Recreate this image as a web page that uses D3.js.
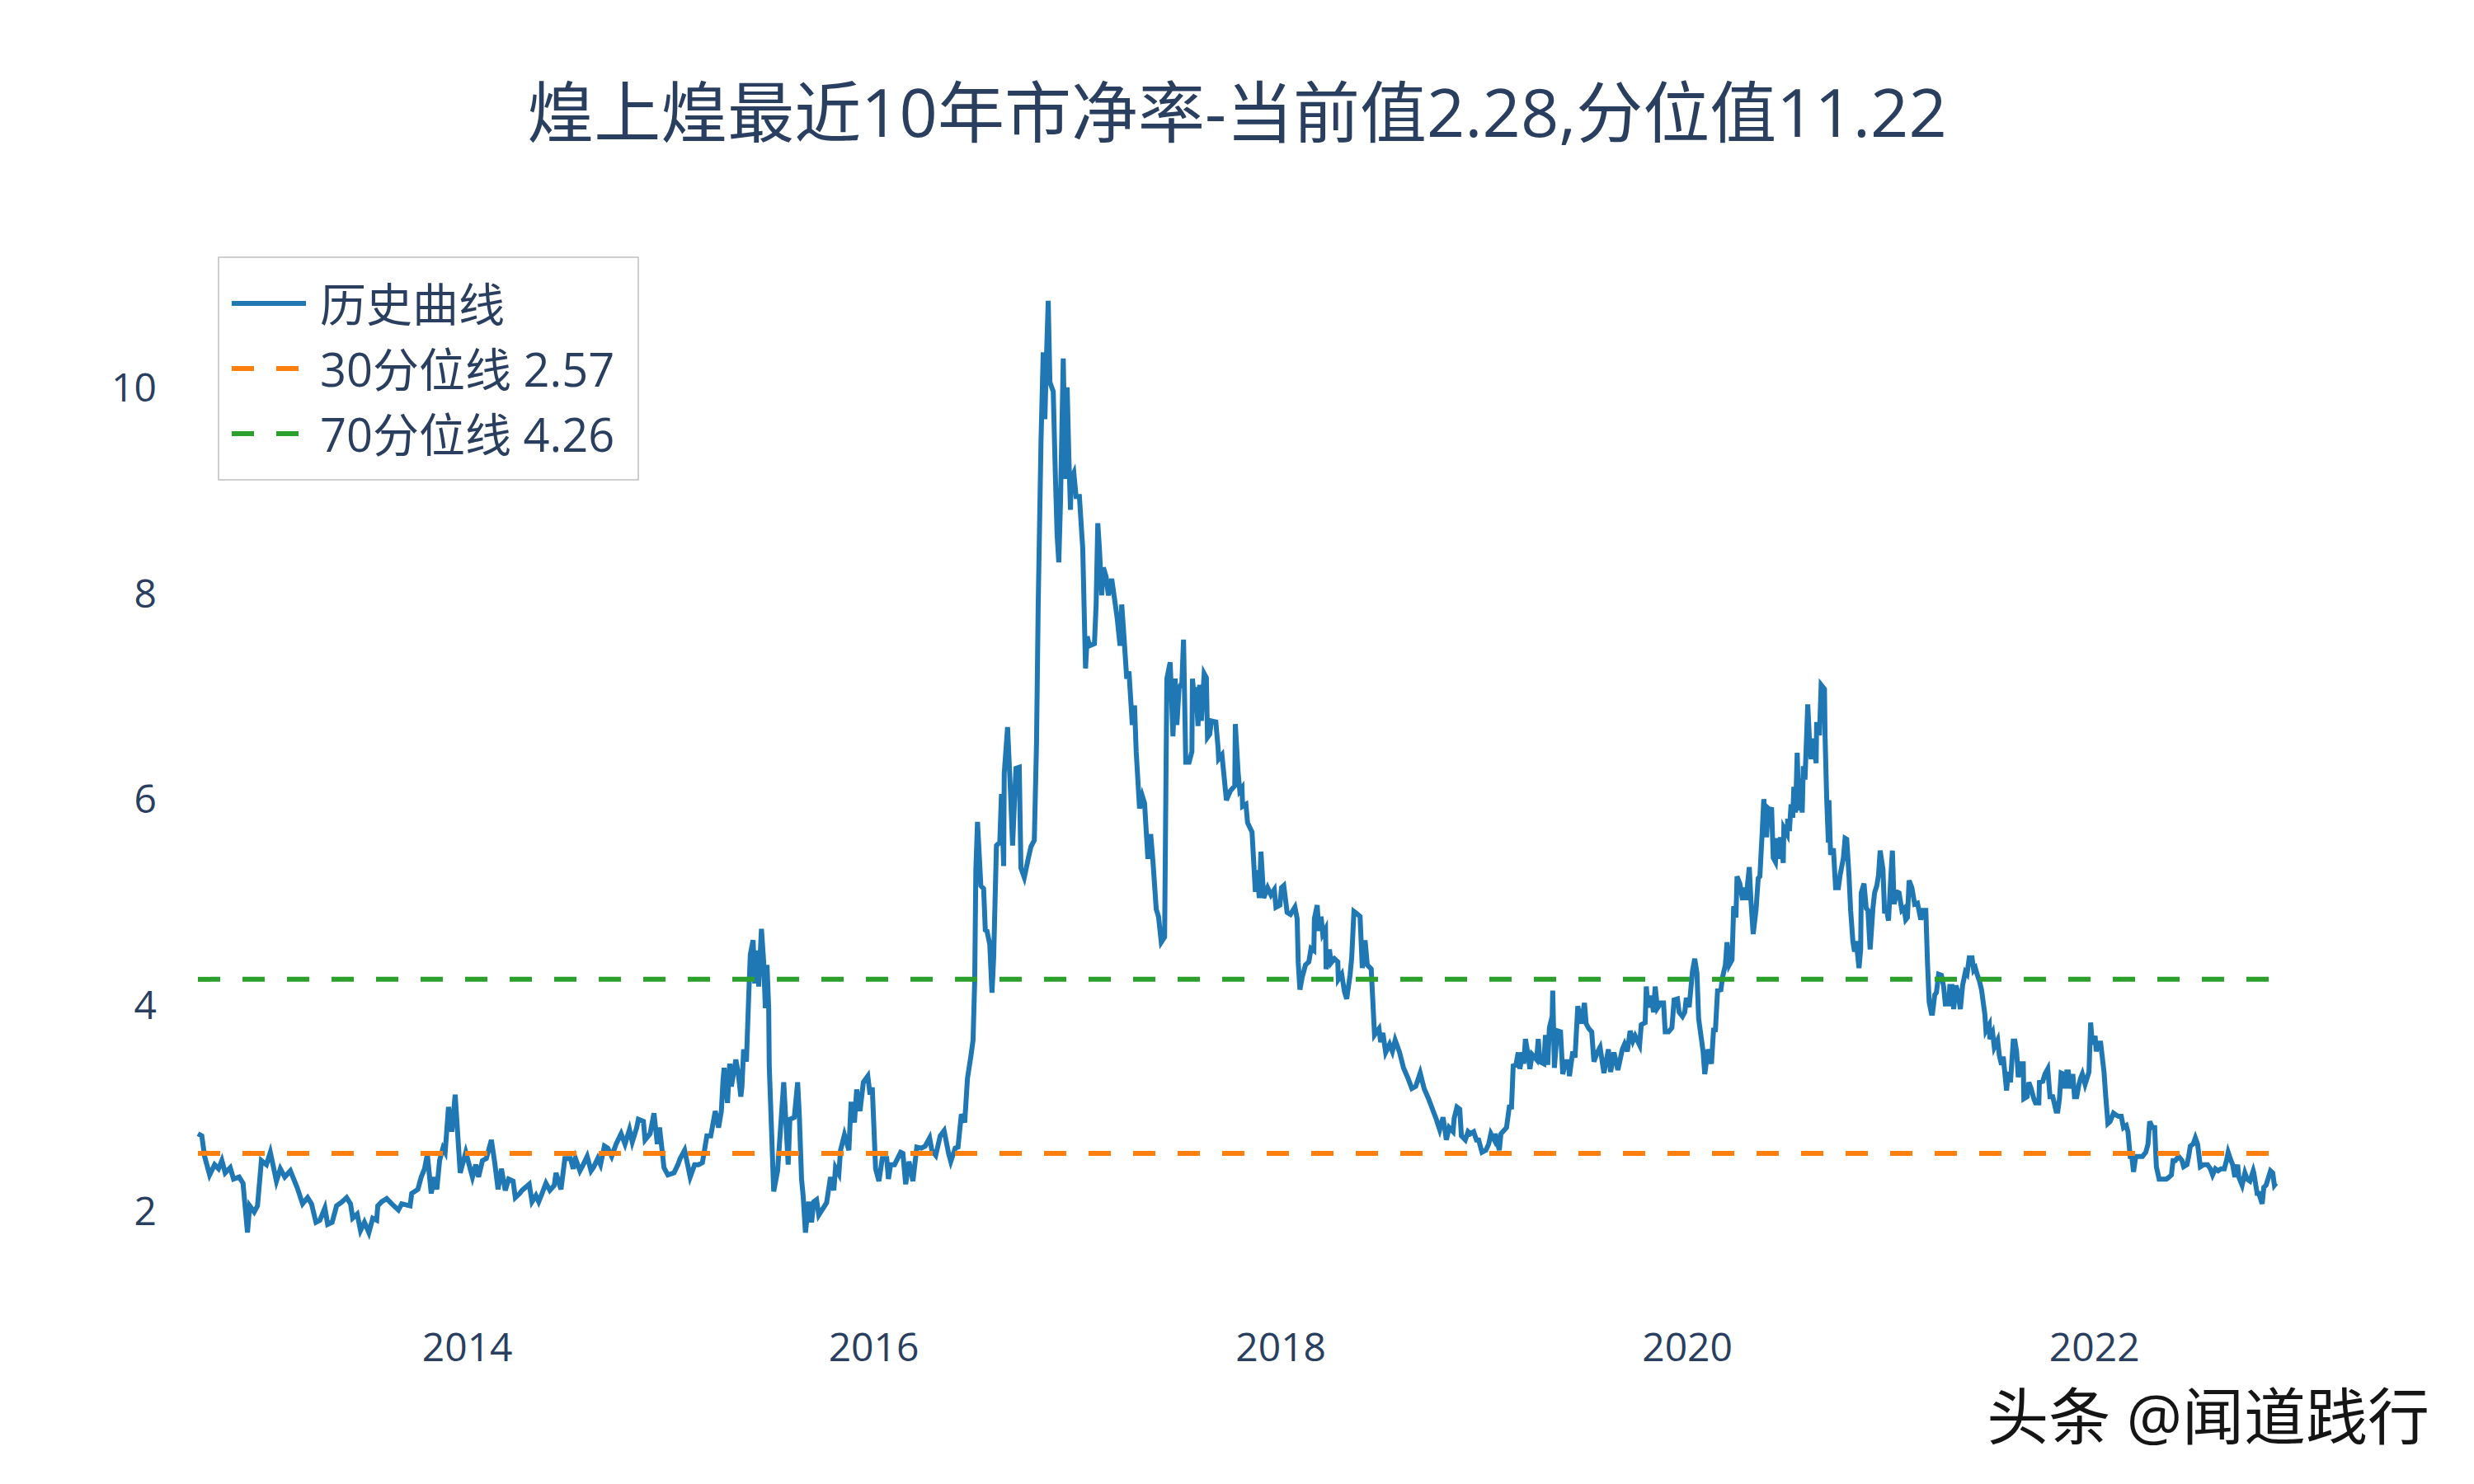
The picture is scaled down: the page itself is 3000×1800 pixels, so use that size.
<!DOCTYPE html>
<html><head><meta charset="utf-8">
<script src="https://cdn.jsdelivr.net/npm/d3@7"></script>
<style>
body{margin:0;background:#fff}
svg{display:block}
text{font-family:"Open Sans","Noto Sans CJK SC",sans-serif}
</style>
</head><body>
<svg id="c" width="3000" height="1800"></svg>
<script>
// ---------------- data ----------------
const titleText = "煌上煌最近10年市净率-当前值2.28,分位值11.22";
const watermarkText = "头条 @闻道践行";
const seriesName = "历史曲线";
const startDate = "2012-09-05";           // first trading day shown
// days after startDate for each reading
const dayOffsets = [
0,7,12,21,30,37,43,49,58,64,74,81,89,93,101,107,114,123,130,141,148,156,166,178,188,197,204,212,219,228,233,241,249,259,267,274,278,286,292,299,307,314,321,323,330,339,348,360,366,381,384,395,401,407,412,419,424,429,434,440,444,450,456,462,471,481,486,493,499,504,511,518,527,
533,539,545,552,558,566,570,578,582,595,600,607,612,618,625,632,640,643,652,659,669,674,678,686,692,699,706,711,718,723,730,736,743,751,760,767,775,780,788,791,800,803,812,819,825,829,837,844,855,862,866,874,884,892,899,906,914,921,929,935,940,943,945,951,955,958,966,970,975,977,980,985,989,992,997,1000,1004,1007,1012,1016,1019,1022,1025,1026,1034,1041,1052,1060,1063,
1071,1077,1080,1084,1087,1091,1097,1102,1106,1111,1115,1129,1136,1142,1145,1151,1154,1161,1169,1173,1179,1183,1189,1195,1203,1207,1211,1217,1223,1229,1237,1240,1244,1251,1262,1266,1271,1277,1284,1291,1299,1306,1314,1318,1325,1333,1340,1348,1352,1360,1365,1371,1377,1382,1388,1392,1395,1397,1400,1406,1411,1414,1417,1422,
1426,1429,1434,1440,1443,1447,1448,1454,1459,1463,1469,1475,1478,1484,1491,1496,1502,1506,1509,1514,1518,1521,1524,1527,1530,1536,1540,1543,1546,1549,1554,1558,1561,1564,1567,1568,1573,1577,1583,1589,1594,1597,1601,1610,1613,1616,1619,1623,1626,1631,1635,1641,1647,1651,1656,1659,1663,1668,1672,1678,1682,1685,1691,1696,1700,1706,1711,1715,1721,1725,1730,1736,1740,1746,1751,1755,1758,1762,1767,1770,1774,1780,1785,1786,1791,
1792,1796,1799,1802,1807,1811,1813,1817,1820,1828,1832,1833,1839,1847,1854,1862,1863,1868,1871,1875,1876,1882,1885,1893,1899,1902,1906,1909,1914,1921,1927,1933,1936,1943,1946,1950,1956,1962,1970,1974,1976,1979,1983,1989,1995,1999,2004,2005,2010,2013,2017,2020,2025,2026,2032,2035,2041,2047,2048,2054,2059,2063,2069,2072,2076,2081,2087,2091,2096,2100,2107,2113,2121,2124,2128,2133,2140,2145,2150,2158,
2165,2173,2180,2187,2195,2202,2210,2217,2224,2230,
2236,2242,2247,2254,2256,2261,2266,2269,2276,2281,2285,2291,2296,2300,2306,2313,2318,2322,2328,2330,2337,2340,2350,2355,2359,2362,2367,2371,2374,2379,2381,2384,2389,2392,2396,2404,2407,2410,2417,2420,2424,2427,2432,2433,2436,2441,2447,2451,2456,2461,2463,2469,2473,2478,2484,2490,2493,2498,2503,2507,2513,2518,2525,2533,2537,2543,2550,2558,2562,2567,2572,2577,2581,2589,2592,2599,2601,2604,2610,2614,2617,2621,2627,2632,2635,2641,2647,2651,2657,2660,2666,2670,2673,2678,2684,2688,2692,2695,2703,2706,2712,2718,2722,2725,2729,2735,2738,2743,2746,2750,2755,
2758,2762,2764,2769,2774,2777,2780,2786,2789,2793,2798,2802,2805,2809,2812,2817,2820,2824,2826,2829,2833,2836,2839,2842,2847,2848,2854,2855,2858,2861,2864,2866,2869,2872,2875,2878,2881,2883,2886,2891,2894,2897,2900,2906,2907,2912,2915,2921,2922,2925,2928,2929,2932,2937,2941,2946,2949,2955,2958,2961,2965,2968,2972,2975,2978,2983,2986,2987,2992,2996,2999,3003,3008,3011,3015,3018,3021,3026,3029,3032,3036,3040,3043,3046,3051,3055,3060,3064,3067,3070,3073,3078,3083,3088,3094,3098,3103,3106,3109,3113,3115,3119,3122,3126,3131,3135,3138,3144,3146,3150,3153,3157,3160,3165,3169,3174,3177,3181,3186,3189,3192,3195,3199,
3203,3209,3211,3217,3218,3223,3226,3232,3235,3239,3242,3248,3251,3255,3260,3263,3266,3269,3273,3278,3279,3285,3288,3292,3297,3300,3306,3307,3313,3317,3322,3326,3331,3337,3340,3343,3346,3350,3353,3356,3359,3362,3367,3370,3374,3378,3381,3384,3389,3396,3399,3402,3407,3409,3412,3417,3423,3426,3430,3434,3440,3445,3449,3454,3458,3463,3466,3470,3473,3476,3480,3488,3492,3498,3502,3505,3510,3514,3517,3522,3528,3535,3540,3544,3547,3551,3557,3563,3566,3572,3575,3578,3583,3587,3591,3596,3602,3609,3614,3618,3623,3628,3633,3639,3643,3646,3651,3654,3658,3663,3665,3671,3676,3680,3685,3691,3692,3698,3701,3707,3710,3714,3722,3726,3729,3732
];
// price-to-book ratio readings
const pbValues = [
2.76,2.74,2.54,2.36,2.46,2.42,2.50,2.38,2.43,2.32,2.34,2.28,1.80,2.06,2.00,2.06,2.50,2.46,2.58,2.30,2.42,2.34,2.40,2.24,2.08,2.14,2.08,1.90,1.92,2.04,1.88,1.90,2.06,2.10,2.14,2.08,1.94,1.98,1.82,1.90,1.80,1.94,1.92,2.06,2.10,2.13,2.08,2.02,2.08,2.06,2.18,2.22,2.34,2.42,2.56,2.18,2.34,2.22,2.50,2.62,2.58,3.02,2.78,3.14,2.38,2.58,2.48,2.34,2.46,2.34,2.50,2.52,2.70,
2.48,2.22,2.42,2.21,2.32,2.30,2.14,2.18,2.21,2.27,2.10,2.16,2.10,2.18,2.28,2.21,2.26,2.38,2.22,2.52,2.52,2.42,2.52,2.40,2.46,2.54,2.40,2.44,2.52,2.46,2.64,2.62,2.54,2.66,2.76,2.66,2.80,2.68,2.82,2.90,2.88,2.70,2.76,2.96,2.66,2.82,2.43,2.36,2.38,2.46,2.52,2.60,2.34,2.46,2.46,2.48,2.74,2.74,2.98,2.82,2.98,3.28,3.40,3.06,3.44,3.22,3.48,3.36,3.12,3.22,3.58,3.46,4.08,4.50,4.64,4.22,4.54,4.19,4.75,4.43,3.98,4.40,3.98,3.42,2.20,2.40,3.26,2.46,2.90,
2.92,3.26,2.94,2.32,2.15,1.80,2.10,1.90,2.10,2.12,1.97,2.09,2.34,2.21,2.43,2.37,2.60,2.75,2.60,3.07,2.87,3.19,2.98,3.26,3.32,3.14,3.21,2.42,2.30,2.52,2.52,2.32,2.46,2.46,2.58,2.57,2.27,2.49,2.30,2.63,2.62,2.64,2.72,2.60,2.55,2.74,2.79,2.57,2.49,2.62,2.63,2.95,2.87,3.30,3.51,3.67,4.25,5.32,5.79,5.17,5.14,4.74,4.73,4.60,
4.13,4.47,5.56,5.59,6.06,5.36,6.26,6.71,6.11,5.56,6.31,6.32,5.34,5.25,5.43,5.55,5.61,6.56,7.90,9.48,10.35,9.70,10.33,10.85,10.06,9.97,9.12,8.57,8.31,8.89,10.29,9.12,10.01,9.34,8.82,9.12,9.18,8.95,8.95,8.44,7.28,7.59,7.50,7.52,7.90,8.69,8.44,7.99,8.26,8.17,7.99,8.15,7.92,7.76,7.50,7.90,7.59,7.18,7.25,6.73,6.92,6.47,5.92,6.04,5.97,5.43,5.67,5.41,4.94,4.87,4.62,4.67,7.18,7.34,6.62,7.18,6.73,7.09,7.14,7.56,6.37,6.37,6.47,7.18,6.87,
7.10,6.72,7.12,6.77,7.23,7.19,6.61,6.64,6.77,6.76,6.51,6.40,6.44,6.00,6.09,6.14,6.74,6.27,6.09,6.12,5.94,5.96,5.78,5.69,5.11,5.32,5.05,5.50,5.05,5.15,5.08,5.13,4.96,4.98,5.15,5.17,4.91,4.89,4.96,4.85,4.42,4.16,4.28,4.40,4.43,4.56,4.54,4.85,4.98,4.73,4.87,4.70,4.75,4.36,4.55,4.42,4.46,4.43,4.26,4.31,4.14,4.07,4.30,4.47,4.92,4.90,4.87,4.37,4.64,4.40,4.36,3.72,3.78,3.65,3.74,3.55,3.63,3.56,3.67,3.55,
3.40,3.30,3.20,3.22,3.35,3.20,3.10,3.00,2.90,2.80,
2.92,2.70,2.82,2.78,2.91,3.02,3.00,2.74,2.70,2.78,2.76,2.78,2.70,2.70,2.58,2.60,2.66,2.76,2.70,2.76,2.60,2.76,2.82,3.02,3.02,3.42,3.43,3.55,3.39,3.55,3.44,3.68,3.52,3.39,3.53,3.48,3.68,3.46,3.44,3.72,3.43,3.79,3.90,4.15,3.40,3.76,3.75,3.34,3.46,3.46,3.32,3.56,3.50,4.00,3.83,4.03,3.83,3.78,3.75,3.46,3.55,3.60,3.35,3.58,3.36,3.55,3.38,3.58,3.63,3.56,3.76,3.66,3.71,3.62,3.82,3.84,4.19,3.99,4.10,3.94,4.19,3.98,4.03,4.03,3.75,3.75,3.79,4.06,4.07,3.94,3.90,3.94,4.08,3.99,4.34,4.46,4.32,3.88,3.56,3.34,3.58,3.44,3.79,3.75,4.15,4.16,4.28,4.40,4.62,4.40,4.45,
4.97,4.86,5.26,5.19,5.03,5.15,5.03,5.35,5.02,4.70,4.93,5.24,5.26,5.67,6.01,5.64,5.92,5.90,5.93,5.44,5.40,5.63,5.43,5.64,5.39,5.73,5.67,5.82,5.70,5.96,5.83,6.13,5.88,6.46,5.90,6.21,5.88,6.33,6.20,6.93,6.59,6.40,6.60,6.36,6.76,6.63,7.12,7.08,6.64,6.01,5.59,6.00,5.47,5.53,5.15,5.15,5.27,5.44,5.63,5.62,5.27,4.93,4.63,4.53,4.63,4.37,4.55,5.10,5.19,4.95,4.93,4.55,4.95,5.10,5.17,5.27,5.51,5.33,4.90,4.95,4.83,5.24,5.51,4.99,5.11,5.10,4.93,4.95,4.84,4.86,5.22,5.15,4.99,5.00,4.84,4.93,4.93,4.42,4.04,3.93,3.93,4.11,4.13,4.31,4.30,4.19,4.02,4.02,4.19,4.19,3.97,4.20,4.15,3.97,4.20,4.33,4.31,4.47,4.47,4.35,4.37,4.31,4.25,
4.16,3.92,3.76,3.82,3.68,3.74,3.60,3.67,3.52,3.43,3.51,3.18,3.36,3.26,3.66,3.66,3.56,3.31,3.44,3.44,3.10,3.12,3.26,3.20,3.10,3.06,3.06,3.26,3.27,3.34,3.39,3.12,3.12,2.98,2.98,3.10,3.35,3.34,3.20,3.36,3.36,3.20,3.34,3.12,3.12,3.24,3.30,3.34,3.24,3.36,3.84,3.63,3.71,3.56,3.64,3.64,3.36,3.13,2.86,2.88,2.96,2.94,2.93,2.93,2.82,2.84,2.78,2.54,2.54,2.39,2.54,2.54,2.54,2.58,2.66,2.88,2.82,2.82,2.44,2.32,2.32,2.32,2.34,2.36,2.50,2.50,2.54,2.50,2.44,2.46,2.54,2.64,2.66,2.72,2.66,2.44,2.46,2.46,2.42,2.36,2.42,2.40,2.42,2.42,2.50,2.58,2.50,2.46,2.34,2.46,2.34,2.26,2.38,2.32,2.30,2.40,2.38,2.18,2.18,2.08,2.24,2.26,2.40,2.38,2.26,2.28
];
const percentileNames = ["30分位线 2.57", "70分位线 4.26"];
const percentileValues = [2.57, 4.26];
const yTickValues = [2, 4, 6, 8, 10];
const xTickYears = [2014, 2016, 2018, 2020, 2022];

// ---------------- layout ----------------
const W = 3000, H = 1800;
const plot = {left: 240, right: 2760, top: 300, bottom: 1560};
const textColor = "#2a3f5f";
const colors = {series: "#1f77b4", p30: "#ff7f0e", p70: "#2ca02c"};

if (dayOffsets.length !== pbValues.length) console.error("length mismatch", dayOffsets.length, pbValues.length);

const base = d3.utcParse("%Y-%m-%d")(startDate);
const data = dayOffsets.map((d, i) => ({date: d3.utcDay.offset(base, d), value: pbValues[i]}));

const svg = d3.select("#c");
svg.append("rect").attr("width", W).attr("height", H).attr("fill", "#fff");

const x = d3.scaleUtc().domain(d3.extent(data, d => d.date)).range([plot.left, plot.right]);
const y = d3.scaleLinear().domain([1.28, 11.37]).range([plot.bottom, plot.top]);

// axes (no lines, no ticks)
const yAxis = d3.axisLeft(y).tickValues(yTickValues).tickSize(0).tickPadding(50).tickFormat(d3.format("d"));
const gy = svg.append("g").attr("transform", `translate(${plot.left},0)`).call(yAxis);
gy.select(".domain").remove();
gy.selectAll("text").attr("font-size", 48).attr("fill", textColor).style("font-family", '"Open Sans","Noto Sans CJK SC",sans-serif');

const xAxis = d3.axisBottom(x)
  .tickValues(xTickYears.map(yr => new Date(Date.UTC(yr, 0, 1))))
  .tickSize(0).tickPadding(57).tickFormat(d3.utcFormat("%Y"));
const gx = svg.append("g").attr("transform", `translate(0,${plot.bottom})`).call(xAxis);
gx.select(".domain").remove();
gx.selectAll("text").attr("font-size", 48).attr("fill", textColor).style("font-family", '"Open Sans","Noto Sans CJK SC",sans-serif');

// series line
const line = d3.line().x(d => x(d.date)).y(d => y(d.value));
svg.append("path").datum(data)
  .attr("fill", "none").attr("stroke", colors.series).attr("stroke-width", 6)
  .attr("d", line);

// percentile lines
const [d0, d1] = x.domain();
[colors.p30, colors.p70].forEach((c, i) => {
  svg.append("line")
    .attr("x1", x(d0)).attr("x2", x(d1))
    .attr("y1", y(percentileValues[i])).attr("y2", y(percentileValues[i]))
    .attr("stroke", c).attr("stroke-width", 6).attr("stroke-dasharray", "27,27");
});

// title
svg.append("text").attr("x", W / 2).attr("y", 166).attr("text-anchor", "middle")
  .attr("font-size", 81).attr("fill", textColor).text(titleText);

// legend
const legendItems = [
  {name: seriesName, color: colors.series, dash: null},
  {name: percentileNames[0], color: colors.p30, dash: "27,27"},
  {name: percentileNames[1], color: colors.p70, dash: "27,27"}
];
const lg = svg.append("g");
const box = lg.append("rect").attr("x", 265).attr("y", 312).attr("height", 270)
  .attr("fill", "#fff").attr("stroke", "#bfbfbf").attr("stroke-width", 1.5);
let maxLen = 0;
legendItems.forEach((it, i) => {
  const cy = 368 + i * 79;
  const l = lg.append("line").attr("x1", 281).attr("x2", 371).attr("y1", cy).attr("y2", cy)
    .attr("stroke", it.color).attr("stroke-width", 6);
  if (it.dash) l.attr("stroke-dasharray", it.dash);
  const t = lg.append("text").attr("x", 388).attr("y", cy + 22).attr("font-size", 56)
    .attr("fill", textColor).text(it.name);
  maxLen = Math.max(maxLen, t.node().getComputedTextLength());
});
box.attr("width", Math.max(509, 388 - 265 + maxLen + 18));

// watermark
svg.append("text").attr("x", 2946).attr("y", 1746).attr("text-anchor", "end")
  .attr("font-size", 75).attr("fill", "#151515")
  .style("font-family", '"Open Sans","Noto Sans CJK SC",sans-serif').text(watermarkText);
</script>
</body></html>
